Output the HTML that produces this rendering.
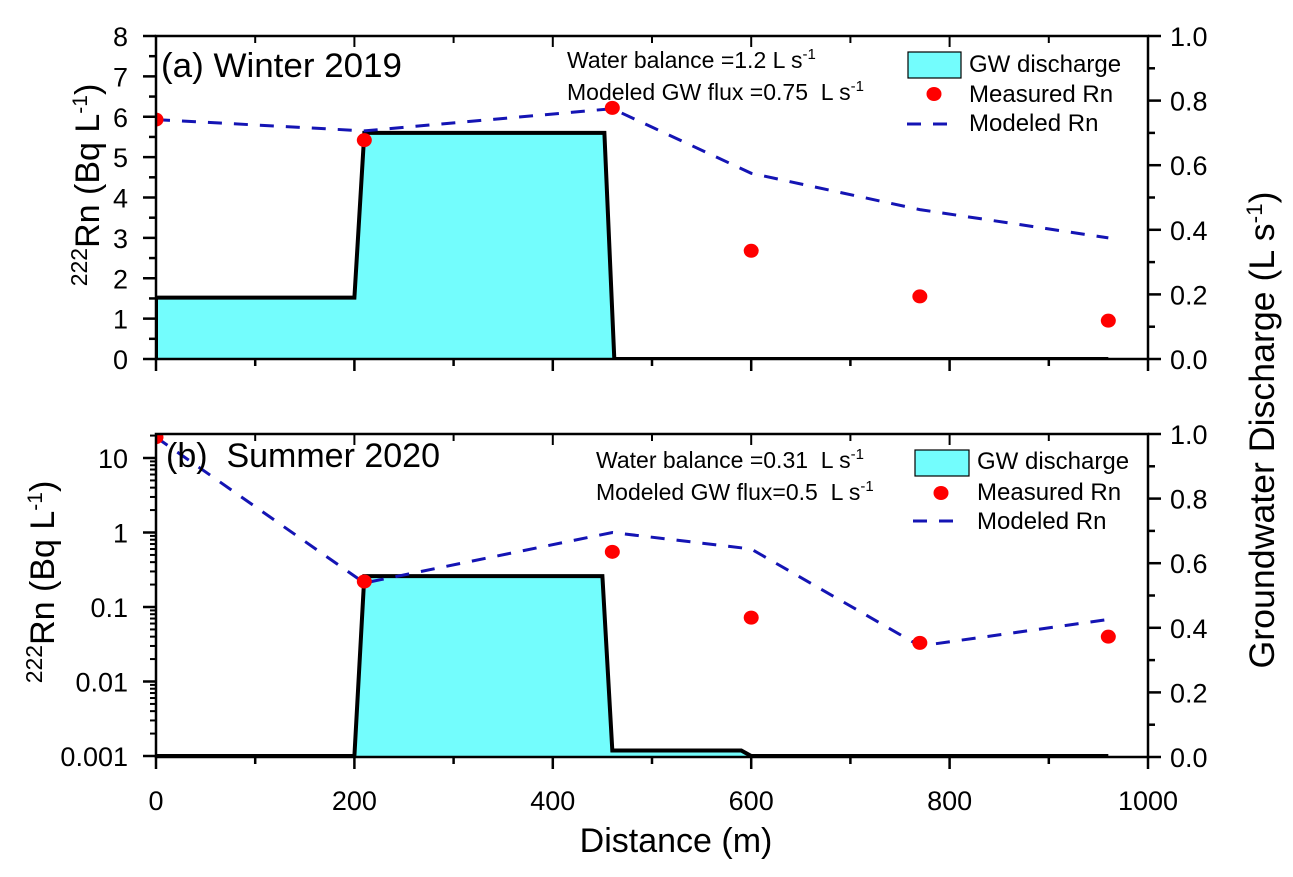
<!DOCTYPE html>
<html><head><meta charset="utf-8"><style>
body{margin:0;background:#fff;}
svg{display:block;font-family:"Liberation Sans",Arial,sans-serif;}
</style></head><body>
<svg id="chart" width="1293" height="877" viewBox="0 0 1293 877">
<defs>
<clipPath id="clipA"><rect x="156" y="36" width="992" height="323"/></clipPath>
<clipPath id="clipB"><rect x="156" y="434" width="992" height="323"/></clipPath>
</defs>
</svg>
<script>
// ---- data ----
const distMeasured = [0, 210, 460, 600, 770, 960];
const rnMeasuredA = [5.93, 5.42, 6.22, 2.68, 1.55, 0.95];
const rnModeledA = [5.93, 5.65, 6.2, 4.6, 3.7, 3.0];
const rnMeasuredB = [19, 0.22, 0.55, 0.072, 0.033, 0.04];
const rnModeledB = [19, 0.21, 1.0, 0.6, 0.03, 0.068];
const gwDistA = [0, 0, 200, 210, 452, 462, 960];
const gwFluxA = [0, 0.19, 0.19, 0.70, 0.70, 0, 0];
const gwDistB = [0, 200, 210, 450, 460, 590, 600, 960];
const gwFluxB = [0.003, 0.003, 0.56, 0.56, 0.02, 0.02, 0.003, 0.003];
const xTicks = [0, 200, 400, 600, 800, 1000];
const yTicksA = [0, 1, 2, 3, 4, 5, 6, 7, 8];
const yTicksB = [0.001, 0.01, 0.1, 1, 10];
const yTickLabelsB = ["0.001", "0.01", "0.1", "1", "10"];
const rTicks = [0, 0.2, 0.4, 0.6, 0.8, 1.0];

const NS = "http://www.w3.org/2000/svg";
const svg = document.getElementById("chart");
function el(tag, attrs, parent, text) {
  const e = document.createElementNS(NS, tag);
  for (const k in attrs) e.setAttribute(k, attrs[k]);
  if (text !== undefined) e.textContent = text;
  (parent || svg).appendChild(e);
  return e;
}
const X0 = 156, X1 = 1148;
const xs = d => X0 + d / 1000 * (X1 - X0);
const A = { top: 36, bot: 359 };
const B = { top: 434, bot: 757 };
const yA = v => A.bot - v / 8 * (A.bot - A.top);
const decade = 74.5;
const yB = v => 756 - (Math.log10(v) + 3) * decade;
const rA = v => A.bot - v * (A.bot - A.top);
const rB = v => B.bot - v * (B.bot - B.top);

function panel(P, yfun, yticks, ylabels, minorFn, rfun, gwD, gwF, mD, mV, modV, clip, tag) {
  const g = el("g", {});
  
  
  let pts = gwD.map((d, i) => xs(d) + "," + rfun(gwF[i])).join(" ");
  const poly = el("polygon", { points: pts + " " + xs(gwD[gwD.length - 1]) + "," + P.bot + " " + xs(0) + "," + P.bot, fill: "#73fdfd", stroke: "none", "clip-path": "url(#" + clip + ")" }, g);
  
  
  const pl = el("polyline", { points: pts, fill: "none", stroke: "#000", "stroke-width": 4, "clip-path": "url(#" + clip + ")" }, g);
  
  
  const ml = el("polyline", { points: mD.map((d, i) => xs(d) + "," + yfun(modV[i])).join(" "), fill: "none", stroke: "#1414b4", "stroke-width": 3, "stroke-dasharray": "14,12", "clip-path": "url(#" + clip + ")" }, g);
  
  
  mD.forEach((d, i) => {
    const c = el("ellipse", { cx: xs(d), cy: yfun(mV[i]), rx: 7.5, ry: 7, fill: "#ff0000", "clip-path": "url(#" + clip + ")" }, g);
    
    
  });
  const fr = el("rect", { x: X0, y: P.top, width: X1 - X0, height: P.bot - P.top, fill: "none", stroke: "#000", "stroke-width": 2.5 }, g);
  
  
  for (let d = 0; d <= 1000; d += 100) {
    const major = d % 200 === 0;
    el("line", { x1: xs(d), x2: xs(d), y1: P.bot, y2: P.bot + (major ? 12 : 7), stroke: "#000", "stroke-width": 2.5 }, g);
    el("line", { x1: xs(d), x2: xs(d), y1: P.top, y2: P.top + (major ? 11 : 7), stroke: "#000", "stroke-width": 2 }, g);
  }
  yticks.forEach((v, i) => {
    el("line", { x1: X0 - 13, x2: X0, y1: yfun(v), y2: yfun(v), stroke: "#000", "stroke-width": 2.5 }, g);
    const t = el("text", { x: X0 - 28, y: yfun(v) + 10, "text-anchor": "end", "font-size": 27 }, g, ylabels[i]);
    
    
  });
  minorFn(g);
  rTicks.forEach(v => {
    el("line", { x1: X1, x2: X1 + 13, y1: rfun(v), y2: rfun(v), stroke: "#000", "stroke-width": 2.5 }, g);
    const t = el("text", { x: X1 + 22, y: rfun(v) + 10, "font-size": 27 }, g, v.toFixed(1));
    
    
  });
  for (let v = 0.1; v < 1; v += 0.2) el("line", { x1: X1, x2: X1 + 7, y1: rfun(v), y2: rfun(v), stroke: "#000", "stroke-width": 2.5 }, g);
  return g;
}

panel(A, yA, yTicksA, yTicksA.map(String), g => {
  for (let v = 0.5; v < 8; v += 1) el("line", { x1: X0 - 7, x2: X0, y1: yA(v), y2: yA(v), stroke: "#000", "stroke-width": 2.5 }, g);
}, rA, gwDistA, gwFluxA, distMeasured, rnMeasuredA, rnModeledA, "clipA", "a");

panel(B, yB, yTicksB, yTickLabelsB, g => {
  for (let e = -3; e <= 1; e++) for (let m = 2; m <= 9; m++) {
    const y = yB(m * Math.pow(10, e));
    if (y < B.top) continue;
    el("line", { x1: X0 - 6, x2: X0, y1: y, y2: y, stroke: "#000", "stroke-width": 2 }, g);
  }
}, rB, gwDistB, gwFluxB, distMeasured, rnMeasuredB, rnModeledB, "clipB", "b");

xTicks.forEach(d => {
  const t = el("text", { x: xs(d), y: 810, "text-anchor": "middle", "font-size": 27 }, svg, String(d));
  
  
});

svg.insertAdjacentHTML("beforeend", `
<text x="676" y="852" text-anchor="middle" font-size="34">Distance (m)</text>
<text x="161" y="77" font-size="34" textLength="241" lengthAdjust="spacingAndGlyphs">(a) Winter 2019</text>
<text x="166" y="467" font-size="34">(b)&#160;&#160;Summer 2020</text>
<text transform="translate(99,185) rotate(-90)" text-anchor="middle" font-size="34"><tspan font-size="23" dy="-12">222</tspan><tspan dy="12">Rn (Bq L</tspan><tspan font-size="21" dy="-12">-1</tspan><tspan dy="12">)</tspan></text>
<text transform="translate(54,582) rotate(-90)" text-anchor="middle" font-size="34"><tspan font-size="23" dy="-12">222</tspan><tspan dy="12">Rn (Bq L</tspan><tspan font-size="21" dy="-12">-1</tspan><tspan dy="12">)</tspan></text>
<text transform="translate(1274,430) rotate(-90)" text-anchor="middle" font-size="35" textLength="477" lengthAdjust="spacingAndGlyphs">Groundwater Discharge (L s<tspan font-size="22" dy="-12">-1</tspan><tspan dy="12">)</tspan></text>
<g font-size="23">
<text x="567" y="68">Water balance =1.2 L s<tspan font-size="15" dy="-9">-1</tspan></text>
<text x="567" y="100">Modeled GW flux =0.75&#160; L s<tspan font-size="15" dy="-9">-1</tspan></text>
</g>
<g font-size="23">
<text x="596" y="468">Water balance =0.31&#160; L s<tspan font-size="15" dy="-9">-1</tspan></text>
<text x="596" y="500">Modeled GW flux=0.5&#160; L s<tspan font-size="15" dy="-9">-1</tspan></text>
</g>
<g font-size="24">
<rect x="908" y="52" width="53" height="26" fill="#73fdfd" stroke="#000" stroke-width="1.2"/>
<text x="969" y="72">GW discharge</text>
<ellipse cx="934" cy="94" rx="7.5" ry="7" fill="#ff0000"/>
<text x="969" y="102">Measured Rn</text>
<line x1="907" y1="124" x2="957" y2="124" stroke="#1414b4" stroke-width="3" stroke-dasharray="14,12"/>
<text x="969" y="131">Modeled Rn</text>
</g>
<g font-size="24">
<rect x="915" y="450" width="54" height="26" fill="#73fdfd" stroke="#000" stroke-width="1.2"/>
<text x="977" y="469">GW discharge</text>
<ellipse cx="941" cy="493" rx="7.5" ry="7" fill="#ff0000"/>
<text x="977" y="500">Measured Rn</text>
<line x1="913" y1="521" x2="963" y2="521" stroke="#1414b4" stroke-width="3" stroke-dasharray="14,12"/>
<text x="977" y="529">Modeled Rn</text>
</g>`);
</script>
</body></html>
